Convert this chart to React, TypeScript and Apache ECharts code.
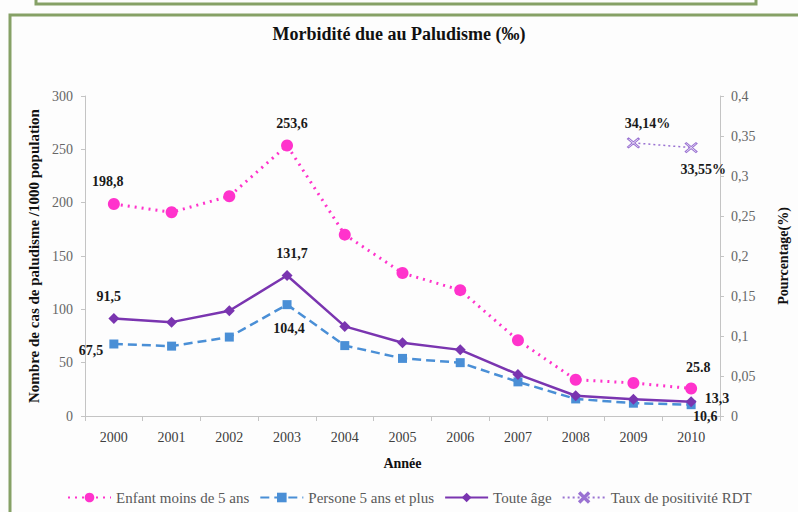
import React, { useEffect, useRef } from "react";
import * as echarts from "echarts";

const years = ["2000", "2001", "2002", "2003", "2004", "2005", "2006", "2007", "2008", "2009", "2010"];
const enfant = [198.8, 191, 206, 253.6, 170, 134, 118, 71, 34, 31, 25.8];
const persone = [67.5, 65.5, 74, 104.4, 66, 54, 50, 32, 16, 12, 10.6];
const touteAge = [91.5, 88, 98.7, 131.7, 84, 68.7, 62, 39, 19, 15.6, 13.3];
const rdt = [null, null, null, null, null, null, null, null, null, 0.3414, 0.3355];

const enfantLabels: Record<number, string> = { 0: "198,8", 3: "253,6", 10: "25.8" };
const personeLabels: Record<number, string> = { 0: "67,5", 3: "104,4", 10: "10,6" };
const touteLabels: Record<number, string> = { 0: "91,5", 3: "131,7", 10: "13,3" };
const rdtLabels: Record<number, string> = { 9: "34,14%", 10: "33,55%" };

const seriesNames = ["Enfant moins de 5 ans", "Persone 5 ans et plus", "Toute âge", "Taux de positivité RDT"];

const FONT = "'Liberation Serif', 'DejaVu Serif', serif";

const labelFont = {
  fontFamily: FONT,
  fontWeight: "bold" as const,
  fontSize: 14,
  color: "#1a1a1a",
};

function withLabels(values: (number | null)[], texts: Record<number, string>, place: Record<number, any>) {
  return values.map((v, i) => {
    if (texts[i] === undefined) return v;
    const t = texts[i];
    return {
      value: v,
      label: { show: true, formatter: () => t, ...labelFont, ...(place[i] || {}) },
    };
  });
}

const X_SYMBOL = "path://M0,1 L1,0 L5,4 L9,0 L10,1 L6,5 L10,9 L9,10 L5,6 L1,10 L0,9 L4,5 Z";

export default function App() {
  const ref = useRef<HTMLDivElement>(null);
  useEffect(() => {
    if (!ref.current) return;
    const chart = echarts.init(ref.current, null, { renderer: "svg" });
    const axisLabel = { fontFamily: FONT, fontSize: 14, color: "#666666" };
    const axisLine = { show: true, lineStyle: { color: "#c4c4c4", width: 1 } };
    const nameStyle = { fontFamily: FONT, fontWeight: "bold" as const, fontSize: 14, color: "#111" };
    chart.setOption({
      animation: false,
      backgroundColor: "#fdfdfd",
      textStyle: { fontFamily: FONT },
      title: {
        text: "Morbidité due au Paludisme (‰)",
        left: "center",
        top: 20,
        textStyle: { fontFamily: FONT, fontWeight: "bold", fontSize: 18, color: "#111" },
      },
      graphic: [
        {
          type: "rect",
          shape: { x: 36, y: -20, width: 720, height: 24 },
          style: { fill: "#fdfdfd", stroke: "#86a166", lineWidth: 3 },
        },
        {
          type: "rect",
          shape: { x: 10, y: 15, width: 820, height: 520 },
          style: { fill: "none", stroke: "#86a166", lineWidth: 3 },
        },
      ],
      legend: {
        bottom: 2,
        left: 62,
        itemWidth: 43,
        itemHeight: 12,
        itemGap: 10,
        textStyle: { fontFamily: FONT, fontSize: 15, color: "#595959" },
        data: seriesNames,
      },
      grid: { left: 85, right: 76, top: 96, bottom: 96 },
      xAxis: {
        type: "category",
        data: years,
        boundaryGap: true,
        name: "Année",
        nameLocation: "middle",
        nameGap: 40,
        nameTextStyle: nameStyle,
        axisLine,
        axisTick: { show: true, lineStyle: { color: "#c4c4c4" }, length: 5 },
        axisLabel: { ...axisLabel, color: "#404040", margin: 14 },
      },
      yAxis: [
        {
          type: "value",
          min: 0,
          max: 300,
          interval: 50,
          name: "Nombre de cas de paludisme /1000 population",
          nameLocation: "middle",
          nameGap: 44,
          nameTextStyle: { ...nameStyle, fontSize: 15 },
          axisLine,
          axisTick: { show: true, lineStyle: { color: "#c4c4c4" }, length: 4 },
          axisLabel: { ...axisLabel, margin: 12 },
          splitLine: { show: false },
        },
        {
          type: "value",
          min: 0,
          max: 0.4,
          interval: 0.05,
          position: "right",
          name: "Pourcentage(%)",
          nameLocation: "middle",
          nameGap: 56,
          nameRotate: 90,
          nameTextStyle: nameStyle,
          axisLine,
          axisTick: { show: true, lineStyle: { color: "#c4c4c4" }, length: 4 },
          axisLabel: {
            ...axisLabel,
            margin: 11,
            formatter: (v: number) => String(Math.round(v * 100) / 100).replace(".", ","),
          },
          splitLine: { show: false },
        },
      ],
      series: [
        {
          name: seriesNames[0],
          type: "line",
          yAxisIndex: 0,
          data: withLabels(enfant, enfantLabels, {
            0: { position: "top", distance: 9, offset: [-6, 0] },
            3: { position: "top", distance: 9, offset: [5, 0] },
            10: { position: "top", distance: 8, offset: [7, 0] },
          }),
          symbol: "circle",
          symbolSize: 12,
          itemStyle: { color: "#ff33cc" },
          lineStyle: { color: "#ff33cc", width: 3, type: [2, 5] },
          label: { show: false },
        },
        {
          name: seriesNames[1],
          type: "line",
          yAxisIndex: 0,
          data: withLabels(persone, personeLabels, {
            0: { position: "left", distance: 6, offset: [0, 6] },
            3: { position: "bottom", distance: 12, offset: [2, 0] },
            10: { position: "bottom", distance: 0, offset: [14, 0] },
          }),
          symbol: "rect",
          symbolSize: 9,
          itemStyle: { color: "#4a8fd6" },
          lineStyle: { color: "#4a8fd6", width: 2.5, type: [9, 5] },
          label: { show: false },
        },
        {
          name: seriesNames[2],
          type: "line",
          yAxisIndex: 0,
          data: withLabels(touteAge, touteLabels, {
            0: { position: "top", distance: 9, offset: [-5, 0] },
            3: { position: "top", distance: 10, offset: [5, 0] },
            10: { position: "right", distance: 8, offset: [0, -3] },
          }),
          symbol: "diamond",
          symbolSize: 11,
          itemStyle: { color: "#7a35b0" },
          lineStyle: { color: "#7a35b0", width: 2.5, type: "solid" },
          label: { show: false },
        },
        {
          name: seriesNames[3],
          type: "line",
          yAxisIndex: 1,
          data: withLabels(rdt, rdtLabels, {
            9: { position: "top", distance: 7, offset: [14, 0] },
            10: { position: "bottom", distance: 9, offset: [12, 0] },
          }),
          symbol: X_SYMBOL,
          symbolSize: [12, 10],
          itemStyle: { color: "#ffffff", borderColor: "#9a72d2", borderWidth: 1 },
          lineStyle: { color: "#9a72d2", width: 1.5, type: [2, 3] },
          label: { show: false },
        },
      ],
    });
    return () => chart.dispose();
  }, []);
  return (
    <div
      ref={ref}
      style={{ position: "fixed", left: 0, top: 0, width: 798, height: 512, background: "#fdfdfd" }}
    />
  );
}
